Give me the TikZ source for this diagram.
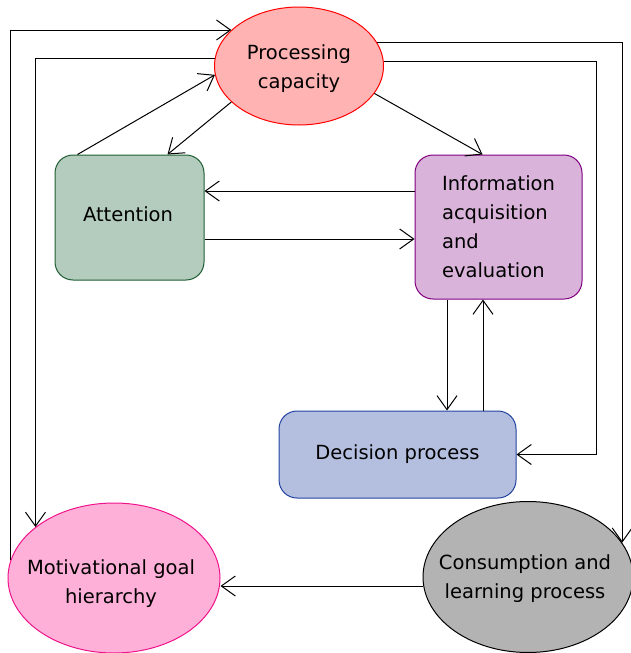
\documentclass[tikz,border=0pt]{standalone}
\usepackage{fontspec}
\setmainfont{DejaVu Sans}
\usetikzlibrary{positioning,arrows.meta,shapes.geometric,calc}

\definecolor{procfill}{HTML}{FFB3B3}
\definecolor{procdraw}{HTML}{FF0000}
\definecolor{attfill}{HTML}{B3CCBE}
\definecolor{attdraw}{HTML}{1E5E32}
\definecolor{infofill}{HTML}{D9B3DA}
\definecolor{infodraw}{HTML}{800080}
\definecolor{decfill}{HTML}{B4BFE0}
\definecolor{decdraw}{HTML}{2343A0}
\definecolor{goalfill}{HTML}{FFB0D8}
\definecolor{goaldraw}{HTML}{F0148C}
\definecolor{consfill}{HTML}{B3B3B3}

\begin{document}
\begin{tikzpicture}[
  x=1pt, y=-1pt,
  >={Straight Barb[length=14pt,width=20pt]},
  font=\fontsize{19.5}{29}\selectfont,
  oval/.style={draw, ellipse, inner sep=0pt, line width=1pt},
  box/.style={draw, rounded corners=18pt, inner sep=0pt, line width=1pt, align=center},
  txt/.style={align=center, inner sep=0pt},
  rel/.style={->, line width=1pt}
]
\useasboundingbox (0,0) rectangle (630,653);

% Processing capacity (top)
\node[oval, fill=procfill, draw=procdraw, minimum width=169pt, minimum height=118pt] (proc) at (299,66) {};
\node[txt] (proc-txt) at (299,69) {Processing\\capacity};

% Middle row
\node[box, fill=attfill, draw=attdraw, minimum width=149pt, minimum height=125pt] (att) at (129.5,217.5) {};
\node[txt] (att-txt) at (128,214) {Attention};
\node[box, fill=infofill, draw=infodraw, minimum width=167pt, minimum height=144pt, align=left] (info) at (498.5,227) {Information\\acquisition\\and\\evaluation};

% Decision
\node[box, fill=decfill, draw=decdraw, minimum width=237pt, minimum height=87pt] (dec) at (397.5,454.5) {Decision process};

% Bottom ellipses
\node[oval, fill=goalfill, draw=goaldraw, minimum width=212pt, minimum height=150pt] (goal) at (114,578) {};
\node[txt] (goal-txt) at (111,584) {Motivational goal\\hierarchy};
\node[oval, fill=consfill, draw=black, minimum width=210pt, minimum height=151pt] (cons) at (528,577) {};
\node[txt] (cons-txt) at (525,579) {Consumption and\\learning process};

% Outer loops
\draw[rel] (goal.170) |- (proc.152);
\draw[rel] (proc.175) -| (goal.147);
\draw[rel] (proc.17) -| (cons.20);
\draw[rel] (proc.3) -| ([xshift=80pt]dec.east) -- (dec.east);

% Attention / processing
\draw[rel] ([xshift=23pt]att.north west) -- (proc.186);
\draw[rel] (proc.208) -- ([xshift=-37pt]att.north east);
\draw[rel] (proc.340) -- ([xshift=-16pt]info.north);

% Attention <-> information
\coordinate (i2a) at ([yshift=36pt]info.west);
\draw[rel] (i2a) -- (i2a -| att.east);
\coordinate (a2i) at ([yshift=-21.5pt]att.east);
\draw[rel] (a2i) -- (a2i -| info.west);

% Information <-> decision
\coordinate (i2d) at ([xshift=-51.5pt]info.south);
\draw[rel] (i2d) -- (i2d |- dec.north);
\coordinate (d2i) at ([xshift=-15.5pt]info.south);
\draw[rel] (d2i |- dec.north) -- (d2i);

% Consumption -> goal
\coordinate (c2g) at ([yshift=-9pt]cons.west);
\draw[rel] (c2g) -- (c2g -| goal.east);

\end{tikzpicture}
\end{document}
